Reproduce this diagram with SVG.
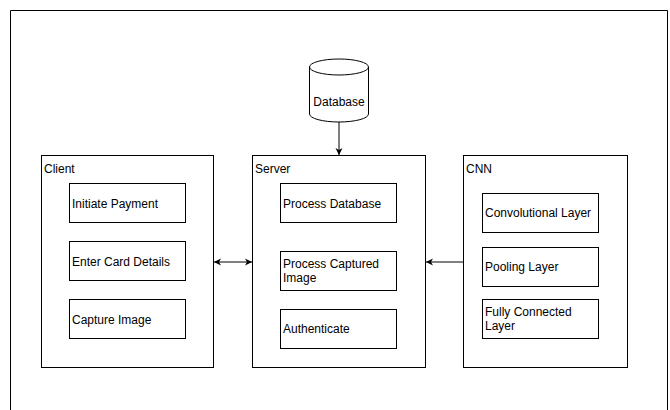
<svg xmlns="http://www.w3.org/2000/svg" width="670" height="410" viewBox="0 0 670 410">
<style>
.box{fill:#fff;stroke:#000;stroke-width:1}
.t{font-family:"Liberation Sans",Arial,sans-serif;font-size:12px;fill:#000}
.c{stroke:#000;stroke-width:1;fill:none}
</style>
<defs>
<marker id="ah" markerWidth="8" markerHeight="8" refX="7" refY="4" orient="auto-start-reverse" markerUnits="userSpaceOnUse">
<path d="M0,0.5 L7,4 L0,7.5 L2,4 Z" fill="#000"/>
</marker>
</defs>
<rect width="670" height="410" fill="#fff"/>
<path d="M10.5,410 V10.5 H667.5 V410" class="c"/>
<g id="database">
<path d="M309.5,67 V114 A29.5,8 0 0 0 368.5,114 V67 A29.5,8 0 0 0 309.5,67 A29.5,8 0 0 0 368.5,67" class="box"/>
<text x="339" y="106" class="t" text-anchor="middle">Database</text>
</g>
<g id="client">
<rect x="41.5" y="155.5" width="172" height="212" class="box"/>
<text x="44" y="173" class="t">Client</text>
</g>
<g id="initiate-payment"><rect x="69.5" y="183.5" width="116" height="39" class="box"/><text x="72" y="208" class="t">Initiate Payment</text></g>
<g id="enter-card"><rect x="69.5" y="241.5" width="116" height="39" class="box"/><text x="72" y="266" class="t">Enter Card Details</text></g>
<g id="capture-image"><rect x="69.5" y="299.5" width="116" height="39" class="box"/><text x="72" y="324" class="t">Capture Image</text></g>
<g id="server">
<rect x="252.5" y="155.5" width="173" height="212" class="box"/>
<text x="255" y="173" class="t">Server</text>
</g>
<g id="process-database"><rect x="280.5" y="183.5" width="116" height="39" class="box"/><text x="283" y="208" class="t">Process Database</text></g>
<g id="process-captured"><rect x="280.5" y="251.5" width="116" height="39" class="box"/><text x="283" y="268" class="t">Process Captured</text><text x="283" y="282" class="t">Image</text></g>
<g id="authenticate"><rect x="280.5" y="309.5" width="116" height="39" class="box"/><text x="283" y="333" class="t">Authenticate</text></g>
<g id="cnn">
<rect x="463.5" y="155.5" width="164" height="212" class="box"/>
<text x="466" y="173" class="t">CNN</text>
</g>
<g id="conv"><rect x="482.5" y="193.5" width="116" height="39" class="box"/><text x="485" y="217" class="t">Convolutional Layer</text></g>
<g id="pooling"><rect x="482.5" y="247.5" width="116" height="39" class="box"/><text x="485" y="271" class="t">Pooling Layer</text></g>
<g id="fully"><rect x="482.5" y="299.5" width="116" height="39" class="box"/><text x="485" y="316" class="t">Fully Connected</text><text x="485" y="330" class="t">Layer</text></g>
<g id="connectors">
<line x1="339" y1="122" x2="339" y2="155" class="c" marker-end="url(#ah)"/>
<line x1="214" y1="262" x2="252" y2="262" class="c" marker-start="url(#ah)" marker-end="url(#ah)"/>
<line x1="463" y1="262" x2="426" y2="262" class="c" marker-end="url(#ah)"/>
</g>
</svg>
